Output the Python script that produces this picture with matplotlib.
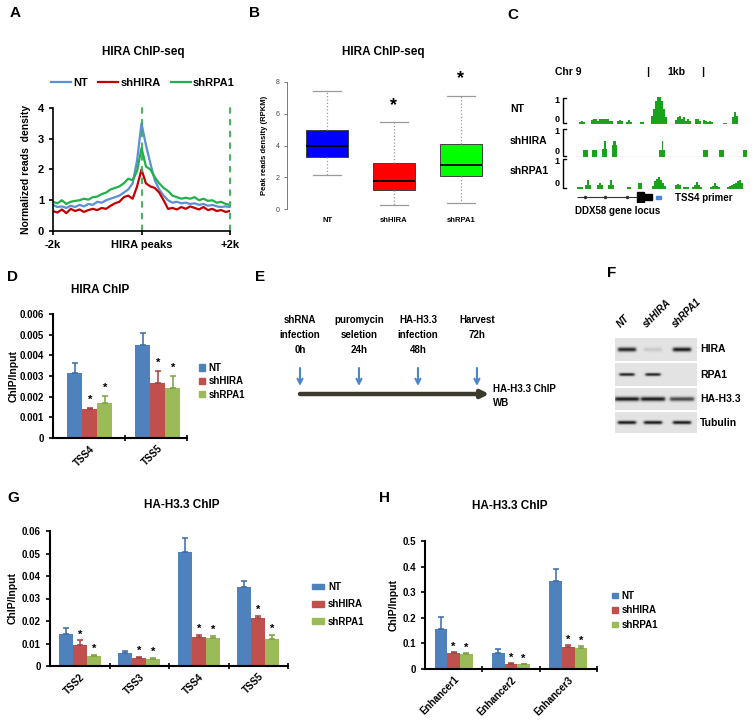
import numpy as np
import matplotlib
matplotlib.use("Agg")
import matplotlib.pyplot as plt
from matplotlib.patches import Patch, Rectangle
from matplotlib.lines import Line2D

W, H = 754, 722
plt.rcParams.update({
    "font.family": ["Liberation Sans", "DejaVu Sans"],
    "font.weight": "bold",
    "axes.labelweight": "bold",
    "axes.linewidth": 1.2,
    "xtick.major.width": 1.2,
    "ytick.major.width": 1.2,
    "xtick.minor.width": 1.2,
    "xtick.major.size": 3,
    "ytick.major.size": 3,
})

groups = ["NT", "shHIRA", "shRPA1"]
line_cols = ["#5b8fd6", "#c00000", "#22b04a"]
box_cols = ["#0000ff", "#ff0000", "#00ff00"]
bar_cols = ["#4f81bd", "#c0504d", "#9bbb59"]
err_cols = ["#3a6aa5", "#a53f3c", "#7f9e45"]

# ---------------- A: HIRA ChIP-seq profile around HIRA peaks
peak_dist = np.arange(-2000, 2001, 100)
profile_nt = [0.85, 0.78, 0.80, 0.75, 0.82, 0.78, 0.85, 0.80, 0.88, 0.85, 0.95,
              0.92, 1.00, 1.05, 1.10, 1.15, 1.25, 1.35, 1.55, 2.30, 3.50, 2.80,
              2.20, 1.65, 1.35, 1.15, 1.00, 0.92, 0.95, 0.90, 0.92, 0.88, 0.90,
              0.85, 0.88, 0.82, 0.85, 0.80, 0.78, 0.80, 0.78]
profile_shhira = [0.65, 0.60, 0.70, 0.58, 0.72, 0.65, 0.70, 0.62, 0.68, 0.72, 0.68,
                  0.75, 0.72, 0.82, 0.90, 0.95, 1.10, 1.15, 1.05, 1.45, 2.00, 1.55,
                  1.45, 1.40, 1.25, 1.00, 0.72, 0.75, 0.70, 0.78, 0.72, 0.80, 0.75,
                  0.70, 0.78, 0.68, 0.72, 0.65, 0.68, 0.62, 0.65]
profile_shrpa1 = [0.95, 0.90, 1.00, 0.88, 0.95, 0.98, 1.00, 1.05, 1.02, 1.10, 1.12,
                  1.20, 1.25, 1.35, 1.40, 1.45, 1.55, 1.70, 1.65, 1.95, 2.70, 2.10,
                  2.00, 1.75, 1.55, 1.40, 1.30, 1.15, 1.10, 1.05, 1.08, 1.05, 1.10,
                  1.00, 1.05, 0.98, 1.00, 0.92, 0.95, 0.88, 0.85]

# ---------------- B: peak read density boxplot
box_whislo = [2.15, 0.25, 0.40]
box_q1 = [3.25, 1.20, 2.05]
box_med = [4.00, 1.75, 2.80]
box_q3 = [4.95, 2.90, 4.10]
box_whishi = [7.45, 5.50, 7.10]
box_star = [None, 6.5, 8.2]

# ---------------- C: browser tracks at DDX58
nt_bins = [10, 12, 14, 22, 24, 26, 28, 30, 32, 34, 36, 38, 40, 42, 48, 50, 52, 57, 59, 61,
           71, 73, 82, 84, 86, 88, 90, 92, 94, 96, 106, 108, 110, 112, 114, 116, 118, 120,
           126, 128, 130, 134, 136, 138, 140, 142, 154, 156, 163, 165, 167]
nt_cov = [0.08, 0.12, 0.08, 0.15, 0.18, 0.18, 0.12, 0.18, 0.18, 0.20, 0.20, 0.18, 0.12, 0.10,
          0.10, 0.15, 0.10, 0.08, 0.15, 0.08, 0.07, 0.07, 0.30, 0.55, 0.85, 1.00, 1.00, 0.85,
          0.55, 0.25, 0.15, 0.25, 0.30, 0.20, 0.25, 0.12, 0.20, 0.12, 0.18, 0.18, 0.12, 0.15,
          0.12, 0.08, 0.10, 0.08, 0.05, 0.05, 0.25, 0.45, 0.30]
hira_start = [13, 22, 32, 33.5, 42, 43, 89, 91.5, 133, 149, 173]
hira_width = [5, 5, 5, 2, 4.5, 2.5, 6, 1.5, 4.5, 4.5, 5]
hira_cov = [0.25, 0.25, 0.27, 0.55, 0.43, 0.55, 0.25, 0.55, 0.25, 0.25, 0.25]
rpa1_bins = [8, 10, 12, 16, 18, 20, 28, 30, 32, 39, 41, 43, 58, 60, 69, 71,
             83, 85, 87, 89, 91, 93, 95, 106, 108, 110, 114, 116, 118,
             123, 125, 127, 129, 131, 141, 143, 145, 147, 149,
             158, 160, 162, 164, 166, 168, 170, 172]
rpa1_cov = [0.07, 0.07, 0.07, 0.12, 0.30, 0.12, 0.12, 0.20, 0.12, 0.12, 0.30, 0.12, 0.08, 0.08,
            0.20, 0.20, 0.10, 0.25, 0.32, 0.40, 0.30, 0.20, 0.10, 0.12, 0.15, 0.12, 0.08, 0.08,
            0.06, 0.08, 0.12, 0.22, 0.12, 0.08, 0.08, 0.10, 0.18, 0.10, 0.08,
            0.08, 0.10, 0.12, 0.15, 0.20, 0.25, 0.30, 0.18]

# ---------------- D: HIRA ChIP-qPCR
d_sites = ["TSS4", "TSS5"]
d_mean = [[0.00315, 0.00448], [0.00140, 0.00264], [0.00168, 0.00244]]
d_err = [[0.00048, 0.00062], [0.00003, 0.00062], [0.00033, 0.00056]]

# ---------------- E: timeline
step_hours = [0, 24, 48, 72]
step_text = ["shRNA\ninfection\n0h", "puromycin\nseletion\n24h",
             "HA-H3.3\ninfection\n48h", "Harvest\n72h"]

# ---------------- F: western blot
blot_rows = ["HIRA", "RPA1", "HA-H3.3", "Tubulin"]
blot_lanes = ["NT", "shHIRA", "shRPA1"]
band_level = [[0.85, 0.12, 0.90], [0.85, 0.85, 0.0], [0.90, 0.90, 0.70], [0.90, 0.90, 0.90]]

# ---------------- G / H: HA-H3.3 ChIP-qPCR
g_sites = ["TSS2", "TSS3", "TSS4", "TSS5"]
g_mean = [[0.0144, 0.0059, 0.0508, 0.0351],
          [0.0095, 0.0037, 0.0129, 0.0214],
          [0.0045, 0.0031, 0.0126, 0.0122]]
g_err = [[0.0025, 0.0008, 0.0060, 0.0028],
         [0.0019, 0.0005, 0.0011, 0.0009],
         [0.0005, 0.0006, 0.0008, 0.0018]]
h_sites = ["Enhancer1", "Enhancer2", "Enhancer3"]
h_mean = [[0.155, 0.064, 0.344], [0.061, 0.021, 0.085], [0.057, 0.018, 0.082]]
h_err = [[0.047, 0.013, 0.045], [0.005, 0.004, 0.010], [0.004, 0.003, 0.008]]

fig = plt.figure(figsize=(W / 100, H / 100), dpi=100)


def rect(l, t, r, b):
    return [l / W, 1 - b / H, (r - l) / W, (b - t) / H]


def label(x, y, s, size=8, **kw):
    kw.setdefault("fontweight", "bold")
    kw.setdefault("ha", "center")
    kw.setdefault("va", "center")
    fig.text(x / W, 1 - y / H, s, fontsize=size, **kw)


def fline(xs, ys, **kw):
    fig.add_artist(Line2D([x / W for x in xs], [1 - y / H for y in ys],
                          transform=fig.transFigure, **kw))


for s, x, y in [("A", 15, 13), ("B", 255, 13), ("C", 513, 15), ("D", 12, 277),
                ("E", 260, 277), ("F", 612, 273), ("G", 13, 498), ("H", 385, 498)]:
    label(x, y, s, size=11)

# ---- A
axA = fig.add_axes(rect(53, 108, 230, 231))
for name, vals, col in zip(groups, [profile_nt, profile_shhira, profile_shrpa1], line_cols):
    axA.plot(peak_dist, vals, color=col, lw=1.6, label=name)
for xv in [0, 2000]:
    axA.axvline(xv, ymin=0, ymax=1.02, color="#2db34a", ls=(0, (3.5, 3)), lw=1.3, clip_on=False)
axA.set_xlim(-2000, 2000)
axA.set_ylim(0, 4)
axA.set_xticks([-2000, 0, 2000], ["-2k", "HIRA peaks", "+2k"], fontsize=8)
axA.set_yticks([0, 1, 2, 3, 4])
axA.tick_params(axis="y", labelsize=8)
axA.spines[["top", "right"]].set_visible(False)
axA.set_ylabel("Normalized reads  density", fontsize=7.5, labelpad=5)
axA.legend(loc="center", bbox_to_anchor=(143 / W, 1 - 83 / H), bbox_transform=fig.transFigure,
           ncol=3, frameon=False, fontsize=8, handlelength=1.8, handletextpad=0.2,
           columnspacing=0.9, borderpad=0)
label(143, 52, "HIRA ChIP-seq", size=8.5)

# ---- B
axB = fig.add_axes(rect(287, 82, 501, 209))
stats = [dict(med=m, q1=a, q3=b, whislo=lo, whishi=hi, label=g)
         for g, lo, a, m, b, hi in zip(groups, box_whislo, box_q1, box_med, box_q3, box_whishi)]
bp = axB.bxp(stats, positions=[1, 2, 3], widths=0.63, capwidths=0.42, showfliers=False,
             patch_artist=True,
             boxprops=dict(edgecolor="#404040", linewidth=0.7),
             medianprops=dict(color="black", linewidth=1.3),
             whiskerprops=dict(color="#9a9a9a", linestyle=":", linewidth=0.9),
             capprops=dict(color="#9a9a9a", linewidth=0.9))
for patch, c in zip(bp["boxes"], box_cols):
    patch.set_facecolor(c)
for pos, st in zip([1, 2, 3], box_star):
    if st is not None:
        axB.text(pos, st, "*", ha="center", va="center", fontsize=13, clip_on=False)
axB.set_xlim(0.4, 3.6)
axB.set_ylim(0, 8)
axB.set_yticks([0, 2, 4, 6, 8])
axB.tick_params(axis="y", labelsize=5, labelcolor="#444444", color="#666666", width=0.6, length=2)
axB.tick_params(axis="x", length=0, labelsize=5.5, pad=6)
for t in axB.get_yticklabels():
    t.set_fontweight("normal")
axB.spines[["top", "right", "bottom"]].set_visible(False)
axB.spines["left"].set_linewidth(0.6)
axB.spines["left"].set_color("#666666")
axB.set_ylabel("Peak reads density (RPKM)", fontsize=5.5, labelpad=5)
label(383, 52, "HIRA ChIP-seq", size=8.5)

# ---- C
tracks = [("NT", nt_bins, nt_cov, 2, "center", 97, 124),
          ("shHIRA", hira_start, hira_cov, hira_width, "edge", 128, 157),
          ("shRPA1", rpa1_bins, rpa1_cov, 2, "center", 158, 189)]
for name, pos, cov, wd, al, top, base in tracks:
    ax = fig.add_axes(rect(575, top, 747, base))
    ax.bar(pos, cov, width=wd, align=al, color="#1aa31a", linewidth=0)
    ax.axhline(0, color="#b0b0b0", lw=0.8)
    ax.set_xlim(5, 177)
    ax.set_ylim(0, 1)
    ax.axis("off")
    fline([566, 563, 563, 566], [top + 1, top + 1, base - 1, base - 1], color="black", lw=1.0)
    label(557, top + 3.5, "1", size=6.5)
    label(557, base - 5, "0", size=6.5)
    label(510, (top + base) / 2 - 2, name, size=7.5, ha="left")
label(555, 72, "Chr 9", size=7.5, ha="left")
label(648, 72, "|", size=8)
label(676, 72, "1kb", size=7.5)
label(703, 72, "|", size=8)

axGene = fig.add_axes(rect(575, 191, 747, 203))
axGene.set_xlim(5, 177)
axGene.set_ylim(-1, 1)
axGene.axis("off")
axGene.hlines(0, 7, 67, color="#333333", lw=0.8)
axGene.plot([15, 35, 57], [0, 0, 0], ls="none", marker="o", ms=1.5, color="#333333")
axGene.add_patch(Rectangle((67, -0.8), 7, 1.6, color="black"))
axGene.add_patch(Rectangle((74, -0.45), 8, 0.9, color="black"))
axGene.add_patch(Rectangle((86, -0.25), 5, 0.5, color="#4a86e8"))
label(675, 198, "TSS4 primer", size=7, ha="left")
label(575, 211, "DDX58 gene locus", size=7, ha="left")


# ---- bar chart helper for D, G, H
def chip_bars(ax, sites, means, errs, width, star_off):
    x = np.arange(len(sites))
    for k, g in enumerate(groups):
        xs = x + (k - 1) * width
        ax.bar(xs, means[k], width, color=bar_cols[k], label=g, zorder=2)
        ax.errorbar(xs, means[k], yerr=[np.zeros(len(sites)), errs[k]], fmt="none",
                    ecolor=err_cols[k], elinewidth=1.1, capsize=2.5, capthick=1.1, zorder=3)
        if k:
            for xi, m, e in zip(xs, means[k], errs[k]):
                ax.text(xi, m + e + star_off, "*", ha="center", va="center", fontsize=8)
    ax.set_xticks(x, sites, rotation=45, ha="right", rotation_mode="anchor", fontsize=7)
    ax.tick_params(axis="x", which="major", length=0, pad=4)
    ax.tick_params(axis="x", which="minor", length=4, direction="inout")
    ax.tick_params(axis="y", labelsize=7)
    ax.spines[["top", "right"]].set_visible(False)
    ax.spines[["left", "bottom"]].set_linewidth(1.5)


def chip_legend(ax, x, y, size, hl, hh, sp):
    handles = [Patch(color=c) for c in bar_cols]
    ax.legend(handles, groups, loc="upper left", bbox_to_anchor=(x / W, 1 - y / H),
              bbox_transform=fig.transFigure, frameon=False, fontsize=size,
              handlelength=hl, handleheight=hh, handletextpad=0.4, labelspacing=sp,
              borderpad=0, borderaxespad=0)


# ---- D
axD = fig.add_axes(rect(53, 314, 187, 438))
chip_bars(axD, d_sites, d_mean, d_err, 0.22, 0.0004)
axD.set_xlim(-0.54, 1.43)
axD.set_xticks([0.52, 1.43], minor=True)
axD.set_ylim(0, 0.006)
axD.set_yticks([0, 0.001, 0.002, 0.003, 0.004, 0.005, 0.006],
               ["0", "0.001", "0.002", "0.003", "0.004", "0.005", "0.006"])
axD.set_ylabel("ChIP/Input", fontsize=7.5, labelpad=1)
chip_legend(axD, 199, 363, 7, 0.6, 0.6, 0.35)
label(100, 290, "HIRA ChIP", size=8.5)

# ---- E
axE = fig.add_axes(rect(280, 310, 560, 415))
axE.set_xlim(-8.14, 105.8)
axE.set_ylim(415, 310)
axE.axis("off")
for hr, txt in zip(step_hours, step_text):
    axE.text(hr, 315, txt, ha="center", va="top", fontsize=7, linespacing=1.6)
    axE.annotate("", xy=(hr, 386), xytext=(hr, 368),
                 arrowprops=dict(arrowstyle="->", color="#4a86c8", lw=1.5, mutation_scale=9,
                                 shrinkA=0, shrinkB=0))
axE.annotate("", xy=(77, 394), xytext=(0, 394),
             arrowprops=dict(arrowstyle="-|>", color="#3b3a2c", lw=3.2, mutation_scale=11,
                             shrinkA=0, shrinkB=0))
axE.text(78.5, 396, "HA-H3.3 ChIP\nWB", ha="left", va="center", fontsize=7, linespacing=1.5)

# ---- F
row_top = [338, 363, 388, 412]
row_bot = [361, 386, 410, 433]
band_half = [9, 7.5, 12, 9]
band_sigma = [2.2, 1.6, 2.2, 1.8]
lane_x = [12, 38, 67]
for r, name in enumerate(blot_rows):
    ax = fig.add_axes(rect(615, row_top[r], 697, row_bot[r]))
    nx, ny = 82, row_bot[r] - row_top[r]
    xx = np.arange(nx) + 0.5
    yy = np.arange(ny) + 0.5
    img = np.full((ny, nx), 0.89)
    for cx, lvl in zip(lane_x, band_level[r]):
        px_ = 0.5 * (np.tanh((xx - (cx - band_half[r])) / 1.5) - np.tanh((xx - (cx + band_half[r])) / 1.5))
        py_ = np.exp(-((yy - ny / 2) / band_sigma[r]) ** 2)
        img -= lvl * 0.85 * np.outer(py_, px_)
    ax.imshow(img, cmap="gray", vmin=0, vmax=1, aspect="auto", extent=(0, nx, ny, 0),
              interpolation="bilinear")
    ax.axis("off")
    label(700, (row_top[r] + row_bot[r]) / 2, name, size=7.5, ha="left")
for cx, name in zip(lane_x, blot_lanes):
    label(615 + cx - 5, 329, name, size=7, ha="left", va="bottom", rotation=45,
          rotation_mode="anchor", style="italic")

# ---- G
axG = fig.add_axes(rect(50, 531, 288, 666))
chip_bars(axG, g_sites, g_mean, g_err, 0.235, 0.0025)
axG.set_xlim(-0.5, 3.5)
axG.set_xticks([0.5, 1.5, 2.5, 3.5], minor=True)
axG.set_ylim(0, 0.06)
axG.set_yticks([0, 0.01, 0.02, 0.03, 0.04, 0.05, 0.06],
               ["0", "0.01", "0.02", "0.03", "0.04", "0.05", "0.06"])
axG.set_ylabel("ChIP/Input", fontsize=7.5, labelpad=3)
chip_legend(axG, 312, 582, 7, 1.25, 0.55, 0.75)
label(182, 505, "HA-H3.3 ChIP", size=8.5)

# ---- H
axH = fig.add_axes(rect(425, 541, 597, 669))
chip_bars(axH, h_sites, h_mean, h_err, 0.22, 0.02)
axH.set_xlim(-0.5, 2.5)
axH.set_xticks([0.5, 1.5, 2.5], minor=True)
axH.set_ylim(0, 0.5)
axH.set_yticks([0, 0.1, 0.2, 0.3, 0.4, 0.5], ["0", "0.1", "0.2", "0.3", "0.4", "0.5"])
axH.set_ylabel("ChIP/Input", fontsize=7.5, labelpad=3)
chip_legend(axH, 612, 591, 7, 0.6, 0.45, 0.45)
label(510, 506, "HA-H3.3 ChIP", size=8.5)

fig.savefig("out.png", dpi=100, facecolor="white")
